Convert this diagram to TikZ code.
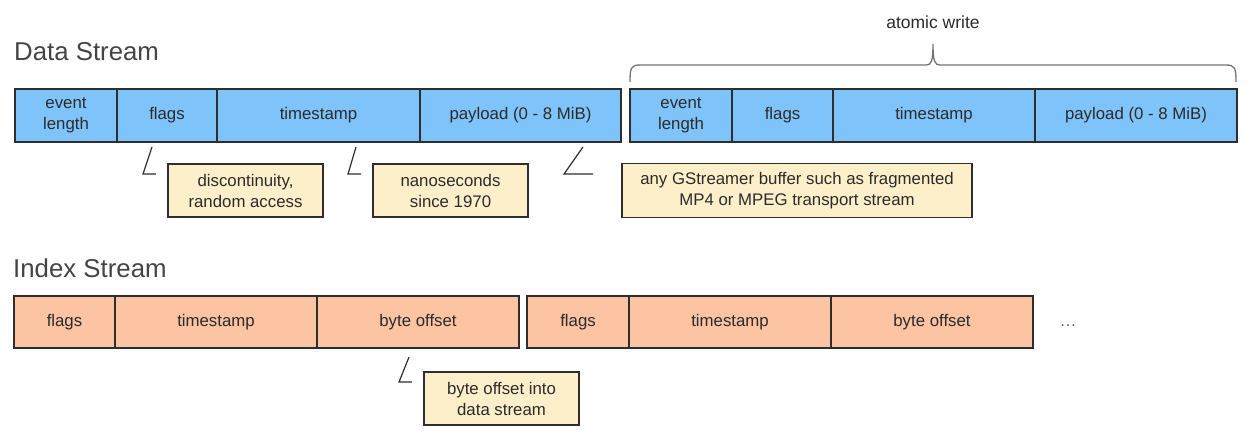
\documentclass[tikz,border=0pt]{standalone}
\usepackage{fontspec}
\setmainfont{Liberation Sans}
\definecolor{cellblue}{HTML}{7FC3FB}
\definecolor{cellorange}{HTML}{FCC4A2}
\definecolor{notefill}{HTML}{FDEFC9}
\definecolor{edge}{HTML}{2E2E2E}
\definecolor{txt}{HTML}{2B2B2B}
\definecolor{ttl}{HTML}{444444}
\begin{document}
\begin{tikzpicture}[x=1pt,y=-1pt,
  base/.style={draw=edge,line width=1.2pt,inner sep=0pt,align=center,text=txt,
    font=\fontsize{16.8}{21}\selectfont},
  dcell/.style={base,fill=cellblue,minimum height=53pt},
  icell/.style={base,fill=cellorange,minimum height=52pt},
  note/.style={base,fill=notefill,minimum height=53pt},
  title/.style={anchor=west,text=ttl,inner sep=0pt,font=\fontsize{25.8}{30}\selectfont},
  tick/.style={draw=edge,line width=1.2pt},
  bracestyle/.style={draw=black!55,line width=1.3pt}]
\useasboundingbox (0,0) rectangle (1255,439);
% titles
\node[title] (tdata) at (14,52) {Data Stream};
\node[title] (tindex) at (13,268) {Index Stream};
% data stream cells
\node[dcell,minimum width=102pt] (d1) at (66,115.5) {event\\length};
\node[dcell,minimum width=100pt] (d2) at (167,115.5) {flags};
\node[dcell,minimum width=203pt] (d3) at (318.5,115.5) {timestamp};
\node[dcell,minimum width=201pt] (d4) at (520.5,115.5) {payload (0 - 8 MiB)};
\node[dcell,minimum width=102pt] (d5) at (681,115.5) {event\\length};
\node[dcell,minimum width=101pt] (d6) at (782.5,115.5) {flags};
\node[dcell,minimum width=202pt] (d7) at (934,115.5) {timestamp};
\node[dcell,minimum width=202pt] (d8) at (1136,115.5) {payload (0 - 8 MiB)};
% brace
\node[text=txt,inner sep=0pt,font=\fontsize{17.5}{20}\selectfont] (aw) at (933,22) {atomic write};
\coordinate (bl) at (630,82);
\coordinate (br) at (1236,82);
\coordinate (bt) at (933,44);
\draw[bracestyle] (bl) .. controls (630,68) and (631,65) .. (640,65) -- (926,65)
  .. controls (931,65) and (933,62) .. (bt)
  .. controls (933,62) and (935,65) .. (940,65) -- (1226,65)
  .. controls (1235,65) and (1236,68) .. (br);
% notes
\node[note,minimum width=155pt] (n1) at (245.5,190.5) {discontinuity,\\random access};
\node[note,minimum width=155pt] (n2) at (450.5,190.5) {nanoseconds\\since 1970};
\node[note,minimum width=350pt,minimum height=54pt] (n3) at (797,190.5) {any GStreamer buffer such as fragmented\\MP4 or MPEG transport stream};
% ticks
\coordinate (k1a) at (152,147); \coordinate (k1b) at (143,174); \coordinate (k1c) at (156,174);
\coordinate (k2a) at (356,147); \coordinate (k2b) at (348,174); \coordinate (k2c) at (361,174);
\coordinate (k3a) at (583,147); \coordinate (k3b) at (564,174); \coordinate (k3c) at (593,174);
\coordinate (k4a) at (409,357); \coordinate (k4b) at (399,382); \coordinate (k4c) at (412,382);
\draw[tick] (k1a) -- (k1b) -- (k1c);
\draw[tick] (k2a) -- (k2b) -- (k2c);
\draw[tick] (k3a) -- (k3b) -- (k3c);
\draw[tick] (k4a) -- (k4b) -- (k4c);
% index stream cells
\node[icell,minimum width=101pt] (i1) at (64.5,322) {flags};
\node[icell,minimum width=202pt] (i2) at (216,322) {timestamp};
\node[icell,minimum width=202pt] (i3) at (418,322) {byte offset};
\node[icell,minimum width=102pt] (i4) at (578,322) {flags};
\node[icell,minimum width=202pt] (i5) at (730,322) {timestamp};
\node[icell,minimum width=202pt] (i6) at (932,322) {byte offset};
\node[text=txt!75,inner sep=0pt,font=\fontsize{17}{20}\selectfont] (dots) at (1068,326) {…};
\node[note,minimum width=155pt] (n4) at (501.5,398.5) {byte offset into\\data stream};
\end{tikzpicture}
\end{document}
